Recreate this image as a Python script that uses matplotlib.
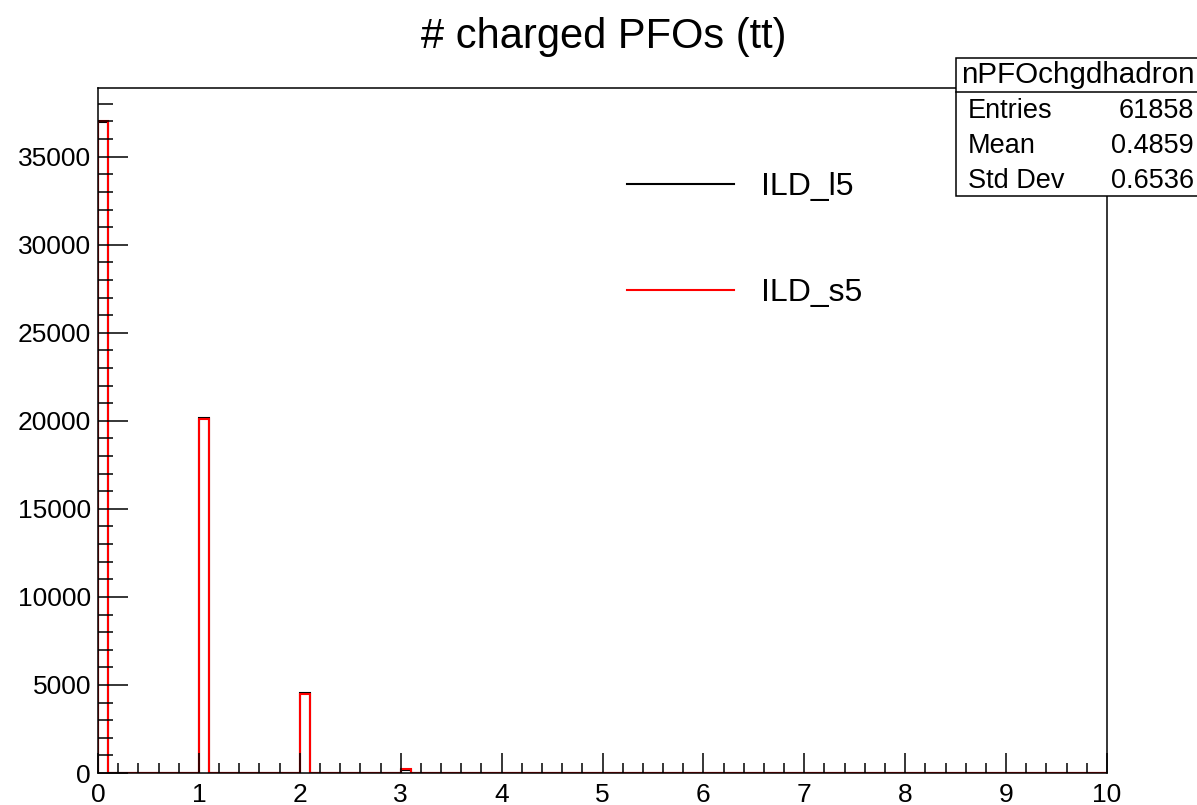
import numpy as np
import matplotlib
matplotlib.use("Agg")
import matplotlib.pyplot as plt
import matplotlib.patches as patches
from matplotlib.lines import Line2D
from matplotlib.ticker import MultipleLocator

plt.rcParams['font.family'] = ['Liberation Sans', 'DejaVu Sans']

# histogram: 100 bins from 0 to 10, only a few filled (integer counts)
n_bins = 100
x_min, x_max = 0.0, 10.0
filled_bins = [0, 10, 20, 30, 40]
counts_l5 = [36950, 20150, 4560, 180, 15]
counts_s5 = [37000, 20100, 4480, 210, 10]

title = "# charged PFOs (tt)"
hist_name = "nPFOchgdhadron"
stats_rows = [("Entries", "61858"), ("Mean", "0.4859"), ("Std Dev", "0.6536")]
labels = ["ILD_l5", "ILD_s5"]


def fill(counts):
    vals = np.zeros(n_bins)
    for b, c in zip(filled_bins, counts):
        vals[b] = c
    return vals


edges = np.linspace(x_min, x_max, n_bins + 1)

fig = plt.figure(figsize=(11.97, 8.05), dpi=100)
ax = fig.add_axes([98 / 1197, 32 / 805, 1009 / 1197, 685 / 805])

ax.stairs(fill(counts_l5), edges, baseline=0, color='black', lw=1.5)
ax.stairs(fill(counts_s5), edges, baseline=0, color='red', lw=1.5)

ax.set_xlim(x_min, x_max)
ax.set_ylim(0, 38900)

ax.xaxis.set_major_locator(MultipleLocator(1))
ax.xaxis.set_minor_locator(MultipleLocator(0.2))
ax.yaxis.set_major_locator(MultipleLocator(5000))
ax.yaxis.set_minor_locator(MultipleLocator(1000))
ax.tick_params(axis='both', which='both', direction='in', labelsize=19, width=1.1)
ax.tick_params(axis='x', which='major', length=14.4, pad=7)
ax.tick_params(axis='x', which='minor', length=7.2)
ax.tick_params(axis='y', which='major', length=21.6, pad=5)
ax.tick_params(axis='y', which='minor', length=10.8)
for s in ax.spines.values():
    s.set_linewidth(1.1)

fig.text(604 / 1197, 1 - 37 / 805, title, ha='center', va='center', fontsize=30)

# legend
handles = [Line2D([], [], color='black', lw=1.5), Line2D([], [], color='red', lw=1.5)]
ax.legend(handles, labels, loc='center left', bbox_to_anchor=(0.524, 0.778),
          frameon=False, fontsize=23, handlelength=3.36, handletextpad=0.84,
          labelspacing=2.4, borderpad=0, borderaxespad=0)

# stats box
W, H = 1197, 805
box = patches.Rectangle((956 / W, 1 - 196 / H), 260 / W, 138 / H, transform=fig.transFigure,
                        facecolor='white', edgecolor='black', lw=1.1, zorder=5)
fig.patches.append(box)
fig.add_artist(Line2D([956 / W, 1.0], [1 - 92 / H, 1 - 92 / H], transform=fig.transFigure,
                      color='black', lw=1.1, zorder=6))
fig.text(1078 / W, 1 - 75 / H, hist_name, ha='center', va='center', fontsize=21.3, zorder=7)
for i, (k, v) in enumerate(stats_rows):
    y = 1 - (111 + 35 * i) / H
    fig.text(968 / W, y, k, ha='left', va='center', fontsize=19.5, zorder=7)
    fig.text(1194 / W, y, v, ha='right', va='center', fontsize=19.5, zorder=7)

fig.savefig("out.png", dpi=100)
